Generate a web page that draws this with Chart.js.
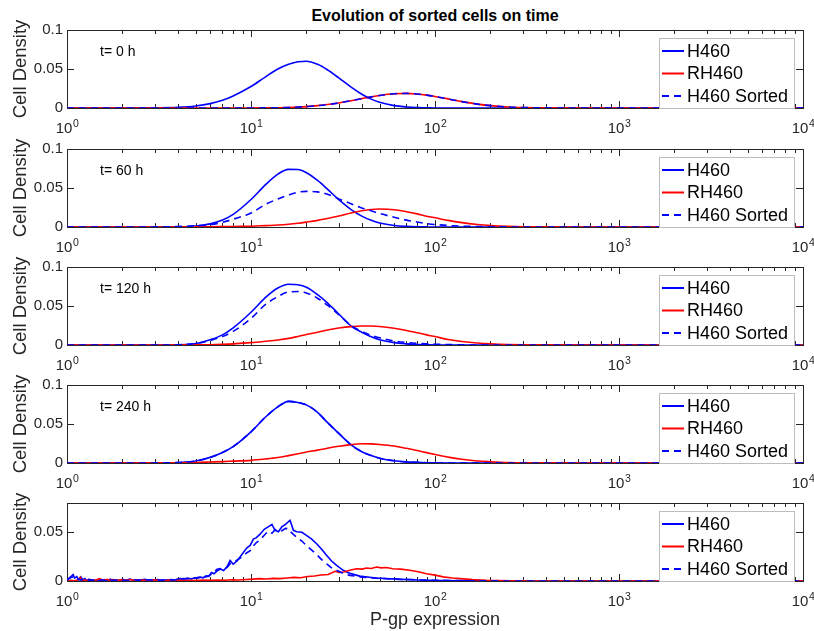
<!DOCTYPE html>
<html>
<head>
<meta charset="utf-8">
<script src="https://cdn.jsdelivr.net/npm/chart.js@4.4.1/dist/chart.umd.min.js"></script>
<style>
  body { margin: 0; background: #fff; width: 814px; height: 631px; position: relative; overflow: hidden; font-family: "Liberation Sans", Arial, sans-serif; }
  .panel { position: absolute; left: 0; }
  #title { position: absolute; left: 0; width: 870px; top: 8px; line-height: 16px; text-align: center; font-weight: bold; font-size: 16px; color: #000; }
</style>
</head>
<body>
<div id="title">Evolution of sorted cells on time</div>
<canvas id="p0" class="panel" width="814" height="121" style="top:17px"></canvas>
<canvas id="p1" class="panel" width="814" height="121" style="top:136px"></canvas>
<canvas id="p2" class="panel" width="814" height="121" style="top:254px"></canvas>
<canvas id="p3" class="panel" width="814" height="121" style="top:372px"></canvas>
<canvas id="p4" class="panel" width="814" height="141" style="top:490px"></canvas>
<script>
// labels and ticks
const seriesLabels = ['H460', 'RH460', 'H460 Sorted'];
const timeLabels = ['t= 0 h', 't= 60 h', 't= 120 h', 't= 240 h', ''];
const xTickValues = [1, 10, 100, 1000, 10000];
const xTickExponents = ['0', '1', '2', '3', '4'];
const xMinorMultipliers = [2, 3, 4, 5, 6, 7, 8, 9];
const yTickValues = [0, 0.05, 0.1];
const yTickLabels = ['0', '0.05', '0.1'];
const yMaxes = [0.1, 0.1, 0.1, 0.1, 0.08];

// P-gp expression grid for the smooth (model) panels
const xGrid = [1, 2, 3, 4, 5, 6, 7, 8, 10, 12, 14, 16, 18, 20, 23, 26, 30, 35, 40, 45, 50, 60, 70, 80, 90, 100, 120, 140, 170, 200, 250, 300, 400, 600, 1000, 10000];

// t = 0 h
const h460_t0 = [0, 0, 0.0002, 0.0008, 0.0025, 0.0056, 0.010, 0.0155, 0.0275, 0.040, 0.050, 0.056, 0.0594, 0.060, 0.056, 0.049, 0.0386, 0.0267, 0.0177, 0.0114, 0.0073, 0.003, 0.0013, 0.0005, 0.0002, 0, 0, 0, 0, 0, 0, 0, 0, 0, 0, 0];
const rh460_t0 = [0, 0, 0, 0, 0, 0, 0, 0, 0, 0.0002, 0.0004, 0.0007, 0.0012, 0.0018, 0.003, 0.0044, 0.0065, 0.0094, 0.012, 0.0143, 0.0161, 0.0182, 0.0187, 0.0179, 0.0165, 0.0148, 0.0113, 0.0082, 0.005, 0.003, 0.0013, 0.0006, 0.0001, 0, 0, 0];
const sorted_t0 = [0, 0, 0, 0, 0, 0, 0, 0, 0, 0.0002, 0.0004, 0.0007, 0.0012, 0.0018, 0.003, 0.0044, 0.0065, 0.0094, 0.012, 0.0143, 0.0161, 0.0182, 0.0187, 0.0179, 0.0165, 0.0148, 0.0113, 0.0082, 0.005, 0.003, 0.0013, 0.0006, 0.0001, 0, 0, 0];

// t = 60 h
const h460_t60 = [0, 0, 0, 0.00025, 0.0013, 0.004, 0.0089, 0.0162, 0.0353, 0.0543, 0.0678, 0.0739, 0.0737, 0.0696, 0.0597, 0.0486, 0.0351, 0.0224, 0.0139, 0.0085, 0.0052, 0.002, 0.0008, 0.0003, 0.0001, 0, 0, 0, 0, 0, 0, 0, 0, 0, 0, 0];
const rh460_t60 = [0, 0, 0, 0, 0.0002, 0.0003, 0.0005, 0.0007, 0.001, 0.0018, 0.0025, 0.0035, 0.0048, 0.0063, 0.0085, 0.011, 0.014, 0.018, 0.0208, 0.0225, 0.023, 0.0222, 0.0196, 0.0168, 0.0139, 0.0118, 0.0082, 0.0056, 0.0033, 0.002, 0.0009, 0.0004, 0.0001, 0, 0, 0];
const sorted_t60 = [0, 0, 0.0001, 0.0006, 0.0015, 0.003, 0.006, 0.010, 0.018, 0.029, 0.036, 0.041, 0.0445, 0.0457, 0.045, 0.042, 0.036, 0.0297, 0.0245, 0.0207, 0.0173, 0.0125, 0.0088, 0.0063, 0.0044, 0.0032, 0.0018, 0.0011, 0.0006, 0.0003, 0.0001, 0, 0, 0, 0, 0];

// t = 120 h
const h460_t120 = [0, 0, 0, 0.0003, 0.0018, 0.0068, 0.013, 0.022, 0.042, 0.061, 0.073, 0.0779, 0.0772, 0.074, 0.0645, 0.054, 0.0398, 0.0243, 0.0162, 0.0105, 0.0068, 0.003, 0.0015, 0.0007, 0.0003, 0, 0, 0, 0, 0, 0, 0, 0, 0, 0, 0];
const rh460_t120 = [0, 0, 0, 0.0001, 0.0002, 0.0004, 0.0009, 0.0015, 0.003, 0.0048, 0.0065, 0.0085, 0.011, 0.0134, 0.0163, 0.0192, 0.0217, 0.0236, 0.0244, 0.0244, 0.0238, 0.0215, 0.0187, 0.0157, 0.013, 0.0108, 0.0067, 0.0045, 0.0026, 0.0016, 0.0007, 0.0003, 0.0001, 0, 0, 0];
const sorted_t120 = [0, 0, 0, 0.0003, 0.0018, 0.0058, 0.011, 0.0175, 0.034, 0.052, 0.062, 0.068, 0.0685, 0.0668, 0.060, 0.051, 0.039, 0.0247, 0.0175, 0.0123, 0.0092, 0.0052, 0.0032, 0.0021, 0.0014, 0.001, 0.0005, 0.0002, 0, 0, 0, 0, 0, 0, 0, 0];

// t = 240 h
const h460_t240 = [0, 0, 0.0001, 0.0006, 0.0025, 0.0072, 0.0135, 0.021, 0.040, 0.059, 0.072, 0.079, 0.0775, 0.0745, 0.065, 0.052, 0.038, 0.0232, 0.0145, 0.0095, 0.0062, 0.0028, 0.0014, 0.0008, 0.0004, 0.0002, 0, 0, 0, 0, 0, 0, 0, 0, 0, 0];
const rh460_t240 = [0, 0, 0.0001, 0.0003, 0.0007, 0.0013, 0.0018, 0.0024, 0.0034, 0.0052, 0.0071, 0.0095, 0.0118, 0.014, 0.0165, 0.019, 0.0215, 0.0236, 0.0246, 0.0245, 0.0238, 0.0218, 0.0188, 0.016, 0.0133, 0.011, 0.0072, 0.0048, 0.0026, 0.0016, 0.0006, 0.0003, 0.0001, 0, 0, 0];
const sorted_t240 = [0, 0, 0.0001, 0.0006, 0.0025, 0.0072, 0.0135, 0.021, 0.040, 0.059, 0.072, 0.079, 0.0775, 0.0745, 0.065, 0.052, 0.038, 0.0232, 0.0145, 0.0095, 0.0062, 0.0028, 0.0014, 0.0008, 0.0004, 0.0002, 0, 0, 0, 0, 0, 0, 0, 0, 0, 0];

// experimental (bottom panel), measured histograms
const expXBlue = [1, 1.02, 1.05, 1.08, 1.1, 1.13, 1.16, 1.19, 1.22, 1.25, 1.28, 1.32, 1.36, 1.4, 1.45, 1.5, 1.55, 1.6, 1.66, 1.72, 1.78, 1.85, 1.92, 2.0, 2.1, 2.2, 2.3, 2.4, 2.5, 2.65, 2.8, 2.95, 3.1, 3.3, 3.5, 3.7, 3.9, 4.1, 4.3, 4.5, 4.7, 4.9, 5.1, 5.3, 5.5, 5.7, 5.9, 6.1, 6.3, 6.5, 6.8, 7.1, 7.4, 7.7, 8.0, 8.4, 8.9, 9.5, 9.9, 10.3, 10.7, 11.2, 11.8, 12.4, 13.0, 13.5, 14.1, 14.7, 15.4, 16.0, 16.3, 17.0, 17.7, 18.9, 20.1, 21.3, 22.8, 24.2, 25.8, 27.4, 29.2, 31.7, 34.5, 39, 44, 48, 54, 59, 66, 73, 81, 90, 110, 137, 170, 250, 500, 1000, 10000];
const h460_exp = [0.0007, 0.0025, 0.0045, 0.0065, 0.003, 0.0045, 0.0008, 0.0042, 0.001, 0.0026, 0.0006, 0.0018, 0.0004, 0.0012, 0.0003, 0.0008, 0.0002, 0.0015, 0.0005, 0.0018, 0.0006, 0.0012, 0.0004, 0.0016, 0.0007, 0.0019, 0.0005, 0.0013, 0.0009, 0.0017, 0.0006, 0.0011, 0.0014, 0.0006, 0.0012, 0.0009, 0.0016, 0.0024, 0.0019, 0.003, 0.0022, 0.0028, 0.0035, 0.004, 0.0033, 0.0052, 0.0048, 0.0088, 0.0075, 0.0098, 0.0122, 0.0108, 0.0145, 0.021, 0.0172, 0.0205, 0.027, 0.034, 0.0365, 0.043, 0.0445, 0.048, 0.053, 0.0555, 0.058, 0.052, 0.0505, 0.0555, 0.058, 0.061, 0.0622, 0.052, 0.0505, 0.050, 0.0465, 0.0432, 0.038, 0.0325, 0.0262, 0.0205, 0.016, 0.011, 0.0078, 0.005, 0.0038, 0.003, 0.0024, 0.0022, 0.0017, 0.0014, 0.001, 0.0008, 0.0005, 0.0003, 0.0002, 0, 0, 0, 0];
const sorted_exp = [0.001, 0.002, 0.0035, 0.0042, 0.0025, 0.0012, 0.0022, 0.0008, 0.0018, 0.0007, 0.0016, 0.0005, 0.0011, 0.0004, 0.0015, 0.0006, 0.0012, 0.0004, 0.0017, 0.0008, 0.001, 0.0005, 0.0014, 0.0009, 0.0004, 0.0012, 0.0016, 0.0006, 0.0011, 0.0005, 0.0013, 0.0008, 0.0004, 0.001, 0.0007, 0.0014, 0.0011, 0.0018, 0.0026, 0.0021, 0.0025, 0.0032, 0.0029, 0.0038, 0.0044, 0.0041, 0.0055, 0.0068, 0.0082, 0.0118, 0.0128, 0.0121, 0.0138, 0.0178, 0.0192, 0.0215, 0.0245, 0.029, 0.031, 0.036, 0.0395, 0.042, 0.047, 0.051, 0.049, 0.0525, 0.053, 0.0515, 0.054, 0.0535, 0.051, 0.0478, 0.045, 0.041, 0.036, 0.032, 0.027, 0.022, 0.0175, 0.0135, 0.011, 0.0078, 0.0058, 0.0042, 0.0033, 0.0028, 0.0025, 0.002, 0.0016, 0.0015, 0.0011, 0.0009, 0.0006, 0.0004, 0.0002, 0, 0, 0, 0];
const expXRed = [1, 1.05, 1.1, 1.15, 1.18, 1.21, 1.25, 1.3, 1.36, 1.42, 1.5, 1.58, 1.66, 1.71, 1.78, 1.86, 1.95, 2.05, 2.2, 2.35, 2.5, 2.7, 2.9, 3.1, 3.35, 3.6, 3.9, 4.2, 4.6, 5.0, 5.5, 6.0, 6.6, 7.2, 7.9, 8.6, 9.4, 10.2, 11.1, 12.1, 13.2, 14.4, 15.7, 17.1, 18.6, 20.3, 22.1, 24.1, 26.3, 28.6, 30.1, 31.9, 34.8, 37.5, 40.2, 42.4, 45, 48.2, 51, 54.5, 59, 65, 73, 81, 90, 100, 111, 124, 137, 160, 191, 220, 260, 350, 1000, 10000];
const rh460_exp = [0, 0.0007, 0.0002, 0.0012, 0.0037, 0.0004, 0.0009, 0.0003, 0.0012, 0.0005, 0.0024, 0.0008, 0.0018, 0.0006, 0.0014, 0.0004, 0.0013, 0.0009, 0.0016, 0.0006, 0.001, 0.0005, 0.0012, 0.0007, 0.0003, 0.0009, 0.0006, 0.0004, 0.0008, 0.0005, 0.0009, 0.0006, 0.0011, 0.0008, 0.0013, 0.001, 0.0015, 0.0019, 0.0024, 0.0021, 0.0027, 0.0024, 0.0031, 0.0037, 0.0034, 0.0046, 0.0052, 0.0061, 0.0066, 0.0099, 0.0088, 0.0092, 0.0112, 0.0126, 0.0122, 0.0133, 0.0129, 0.0143, 0.0135, 0.0138, 0.0126, 0.0122, 0.0110, 0.0094, 0.0075, 0.006, 0.0042, 0.0031, 0.0024, 0.0014, 0.0007, 0.0004, 0.0002, 0, 0, 0];

const panels = [
  { xBlue: xGrid, xRed: xGrid, blue: h460_t0, red: rh460_t0, sorted: sorted_t0, smooth: true },
  { xBlue: xGrid, xRed: xGrid, blue: h460_t60, red: rh460_t60, sorted: sorted_t60, smooth: true },
  { xBlue: xGrid, xRed: xGrid, blue: h460_t120, red: rh460_t120, sorted: sorted_t120, smooth: true },
  { xBlue: xGrid, xRed: xGrid, blue: h460_t240, red: rh460_t240, sorted: sorted_t240, smooth: true },
  { xBlue: expXBlue, xRed: expXRed, blue: h460_exp, red: rh460_exp, sorted: sorted_exp, smooth: false }
];

const fontFamily = '"Liberation Sans", Arial, Helvetica, sans-serif';
const axisColor = '#262626';
Chart.defaults.font.family = fontFamily;
Chart.defaults.color = axisColor;

function toPoints(xs, ys) {
  return xs.map((v, i) => ({ x: v, y: ys[i] }));
}

// box with inward ticks, MATLAB style
const matlabAxes = {
  id: 'matlabAxes',
  beforeDatasetsDraw(chart) {
    const { ctx, chartArea: a, scales: { x, y } } = chart;
    ctx.save();
    ctx.strokeStyle = axisColor;
    ctx.lineWidth = 1;
    ctx.beginPath();
    const tick = (v, len) => {
      const px = Math.round(x.getPixelForValue(v)) + 0.5;
      ctx.moveTo(px, a.top); ctx.lineTo(px, a.top + len);
      ctx.moveTo(px, a.bottom); ctx.lineTo(px, a.bottom - len);
    };
    xTickValues.forEach(v => tick(v, 7));
    xTickValues.slice(0, -1).forEach(d => xMinorMultipliers.forEach(m => tick(d * m, 4)));
    y.ticks.forEach(t => {
      const py = Math.round(y.getPixelForValue(t.value)) + 0.5;
      ctx.moveTo(a.left, py); ctx.lineTo(a.left + 7, py);
      ctx.moveTo(a.right, py); ctx.lineTo(a.right - 7, py);
    });
    ctx.stroke();
    ctx.strokeRect(a.left + 0.5, a.top + 0.5, a.right - a.left, a.bottom - a.top);
    ctx.restore();
  },
  afterDatasetsDraw(chart, args, opts) {
    const { ctx, chartArea: a, scales: { x } } = chart;
    ctx.save();
    // x tick labels as 10 with superscript
    ctx.fillStyle = axisColor;
    ctx.textBaseline = 'alphabetic';
    xTickValues.forEach((v, k) => {
      const px = x.getPixelForValue(v);
      ctx.font = '15px ' + fontFamily;
      const wBase = ctx.measureText('10').width;
      ctx.font = '10.5px ' + fontFamily;
      const wExp = ctx.measureText(xTickExponents[k]).width;
      const x0 = px - (wBase + wExp) / 2;
      ctx.font = '15px ' + fontFamily;
      ctx.fillText('10', x0, a.bottom + 25);
      ctx.font = '10.5px ' + fontFamily;
      ctx.fillText(xTickExponents[k], x0 + wBase + 0.5, a.bottom + 18.5);
    });
    if (opts.time) {
      ctx.font = '14px ' + fontFamily;
      ctx.fillStyle = '#000';
      ctx.fillText(opts.time, a.left + 33, a.top + 26);
    }
    // legend inside the axes, upper right
    const bw = 135, bh = 70;
    const bx = a.right - 9 - bw, by = a.top + 8;
    ctx.fillStyle = '#fff';
    ctx.fillRect(bx, by, bw, bh);
    ctx.strokeStyle = '#bdbdbd';
    ctx.lineWidth = 1;
    ctx.strokeRect(bx + 0.5, by + 0.5, bw, bh);
    ctx.textBaseline = 'middle';
    chart.data.datasets.forEach((ds, k) => {
      const cy = by + 13 + k * 22.5;
      ctx.strokeStyle = ds.borderColor;
      ctx.lineWidth = 2;
      ctx.setLineDash(ds.borderDash || []);
      ctx.beginPath();
      ctx.moveTo(bx + 3, cy);
      ctx.lineTo(bx + 25, cy);
      ctx.stroke();
      ctx.setLineDash([]);
      ctx.fillStyle = '#000';
      ctx.font = '18px ' + fontFamily;
      ctx.fillText(ds.label, bx + 28, cy + 1);
    });
    ctx.restore();
  }
};

panels.forEach((p, i) => {
  const isLast = i === panels.length - 1;
  const common = {
    pointRadius: 0,
    borderWidth: 1.6,
    fill: false,
    tension: p.smooth ? 0.4 : 0,
    cubicInterpolationMode: p.smooth ? 'monotone' : 'default'
  };
  const ctx = document.getElementById('p' + i).getContext('2d');
  new Chart(ctx, {
    type: 'line',
    data: {
      datasets: [
        { ...common, label: seriesLabels[0], data: toPoints(p.xBlue, p.blue), borderColor: '#0000ff', order: 2 },
        { ...common, label: seriesLabels[1], data: toPoints(p.xRed, p.red), borderColor: '#ff0000', order: 1 },
        { ...common, label: seriesLabels[2], data: toPoints(p.xBlue, p.sorted), borderColor: '#0000ff', borderDash: [7, 5], order: 0 }
      ]
    },
    options: {
      responsive: false,
      animation: false,
      devicePixelRatio: 1,
      events: [],
      layout: { padding: { top: 12, right: 11, left: 0, bottom: 0 } },
      plugins: {
        legend: { display: false },
        tooltip: { enabled: false },
        matlabAxes: { time: timeLabels[i] }
      },
      scales: {
        x: {
          type: 'logarithmic',
          min: 1,
          max: 10000,
          grid: { display: false, drawTicks: false },
          border: { display: false },
          ticks: { display: false },
          title: {
            display: isLast,
            text: 'P-gp expression',
            color: axisColor,
            font: { size: 18 },
            padding: { top: 0, bottom: 0 }
          },
          afterFit: s => { s.height = isLast ? 50 : 30; }
        },
        y: {
          min: 0,
          max: yMaxes[i],
          grid: { display: false, drawTicks: false },
          border: { display: false },
          afterBuildTicks: s => {
            s.ticks = yTickValues.filter(v => v <= yMaxes[i]).map(v => ({ value: v }));
          },
          ticks: {
            padding: 4,
            color: axisColor,
            font: { size: 15 },
            callback: v => yTickLabels[yTickValues.indexOf(v)]
          },
          title: {
            display: true,
            text: 'Cell Density',
            color: axisColor,
            font: { size: 18.5 },
            padding: { top: 10, bottom: 0 }
          },
          afterFit: s => { s.width = 67; }
        }
      }
    },
    plugins: [matlabAxes]
  });
});
</script>
</body>
</html>
